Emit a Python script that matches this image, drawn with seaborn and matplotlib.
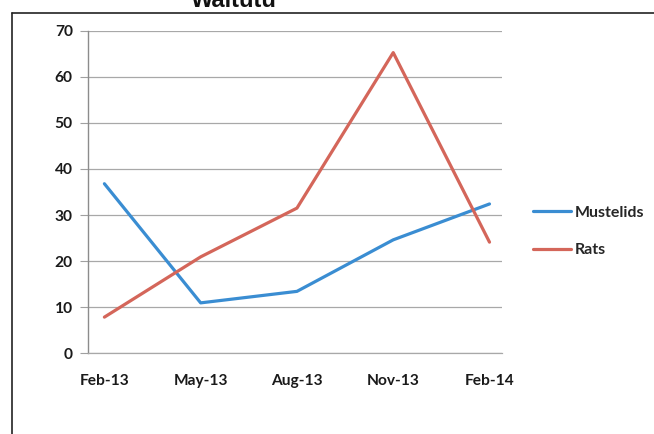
import matplotlib
matplotlib.use("Agg")
import matplotlib.pyplot as plt
from matplotlib.lines import Line2D
import seaborn as sns
import pandas as pd

# data
dates = ["Feb-13", "May-13", "Aug-13", "Nov-13", "Feb-14"]
mustelids = [36.8, 10.9, 13.4, 24.6, 32.4]
rats = [7.8, 20.9, 31.5, 65.3, 24.1]

blue = "#3A8DD2"
red = "#D4665A"

df = pd.DataFrame({
    "Date": list(range(len(dates))) * 2,
    "Count": mustelids + rats,
    "Series": ["Mustelids"] * len(dates) + ["Rats"] * len(dates),
})

sns.set_style("white")
plt.rcParams["font.family"] = ["Lato", "DejaVu Sans"]

fig = plt.figure(figsize=(6.54, 4.34), dpi=100)
ax = fig.add_axes([0.1346, 0.1866, 0.633, 0.742])

sns.lineplot(data=df, x="Date", y="Count", hue="Series",
             palette={"Mustelids": blue, "Rats": red},
             linewidth=2.3, ax=ax, legend=False)

ax.set_xlim(-0.17, 4.13)
ax.set_ylim(0, 70)
ax.set_yticks(range(0, 71, 10))
ax.set_xticks(range(len(dates)))
ax.set_xticklabels(dates)
ax.set_xlabel("")
ax.set_ylabel("")

ax.yaxis.grid(True, color="#A8A8A8", linewidth=0.9)
ax.xaxis.grid(False)
for side in ["top", "right"]:
    ax.spines[side].set_visible(False)
ax.spines["left"].set_color("#8C8C8C")
ax.spines["left"].set_linewidth(1.0)
ax.spines["bottom"].set_color("#A8A8A8")
ax.spines["bottom"].set_linewidth(0.9)

ax.tick_params(axis="y", length=5.5, width=0.8, color="#A0A0A0", pad=5.5,
               labelsize=11.2, left=True)
ax.tick_params(axis="x", length=0, pad=15, labelsize=11.2)
for lab in ax.get_xticklabels() + ax.get_yticklabels():
    lab.set_fontweight("bold")
    lab.set_color("#1A1A1A")

handles = [Line2D([], [], color=blue, linewidth=2.3),
           Line2D([], [], color=red, linewidth=2.3)]
leg = fig.legend(handles, ["Mustelids", "Rats"], loc="upper left",
                 bbox_to_anchor=(0.815, 0.526), frameon=False,
                 handlelength=2.4, handletextpad=0.2, labelspacing=1.45,
                 borderpad=0, borderaxespad=0,
                 prop={"family": ["Lato", "DejaVu Sans"], "weight": "bold", "size": 11.5})

# chart frame, partly cut off in the scan
fig.add_artist(Line2D([12 / 654, 1], [1 - 13 / 434, 1 - 13 / 434],
                      transform=fig.transFigure, color="#222222", linewidth=1.2))
fig.add_artist(Line2D([12 / 654, 12 / 654], [0, 1 - 13 / 434],
                      transform=fig.transFigure, color="#222222", linewidth=1.2))

# title mostly cut off at the top of the scan
fig.text(234 / 654, 1 - 7 / 434, "Waitutu", ha="center", va="baseline",
         fontsize=17, fontweight="bold", family=["Liberation Sans", "DejaVu Sans"],
         color="#111111")

fig.savefig("out.png", dpi=100)
